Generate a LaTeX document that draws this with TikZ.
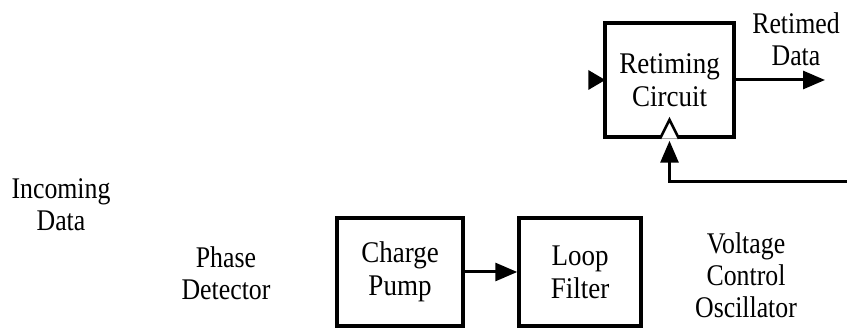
\documentclass[tikz,border=0pt]{standalone}
\usepackage{fontspec}
\setmainfont{Liberation Serif}[FakeStretch=0.86]
\newfontfamily\boxfont{Liberation Serif}[FakeStretch=0.9]
\usetikzlibrary{arrows.meta}
\begin{document}
\begin{tikzpicture}[x=1pt,y=-1pt,
  blk/.style={draw,line width=3.5pt,rectangle,inner sep=0pt,align=center,
    font=\boxfont\fontsize{30}{33}\selectfont},
  lbl/.style={align=center,inner sep=0pt,font=\fontsize{30}{32}\selectfont},
  conn/.style={line width=3pt},
  tip/.style={-{Triangle[length=22pt,width=18pt]}}]
\useasboundingbox (0,0) rectangle (847,328);
% blocks
\node[blk,minimum width=129pt,minimum height=114pt] (rc) at (669.5,80) {Retiming\\Circuit};
\node[blk,minimum width=126pt,minimum height=108pt] (cp) at (400,272) {Charge\\Pump};
\node[blk,minimum width=122pt,minimum height=108pt] (lf) at (580,272) {Loop\\Filter};
% labels
\node[lbl] (rd) at (796,39) {Retimed\\Data};
\node[lbl] (id) at (61,205) {Incoming\\Data};
\node[lbl] (pd) at (226,273) {Phase\\Detector};
\node[lbl] (vco) at (746,275) {Voltage\\Control\\Oscillator};
% connectors
\coordinate (out) at (825,80);
\coordinate (fb) at (847,182);
\draw[conn,tip] (cp.east) -- (lf.west);
\draw[conn,tip] (rc.east) -- (out);
\draw[conn,tip,shorten >=2pt] (fb) -| (rc.south);
% input arrowhead on retiming circuit
\fill ([xshift=2pt]rc.west) -- ++(-17,-10) -- ++(0,20) -- cycle;
% clock triangle
\draw[line width=2.5pt,fill=white,line join=miter]
  ([xshift=-9.5pt]rc.south) -- ([yshift=19pt]rc.south) -- ([xshift=9.5pt]rc.south);
\end{tikzpicture}
\end{document}
